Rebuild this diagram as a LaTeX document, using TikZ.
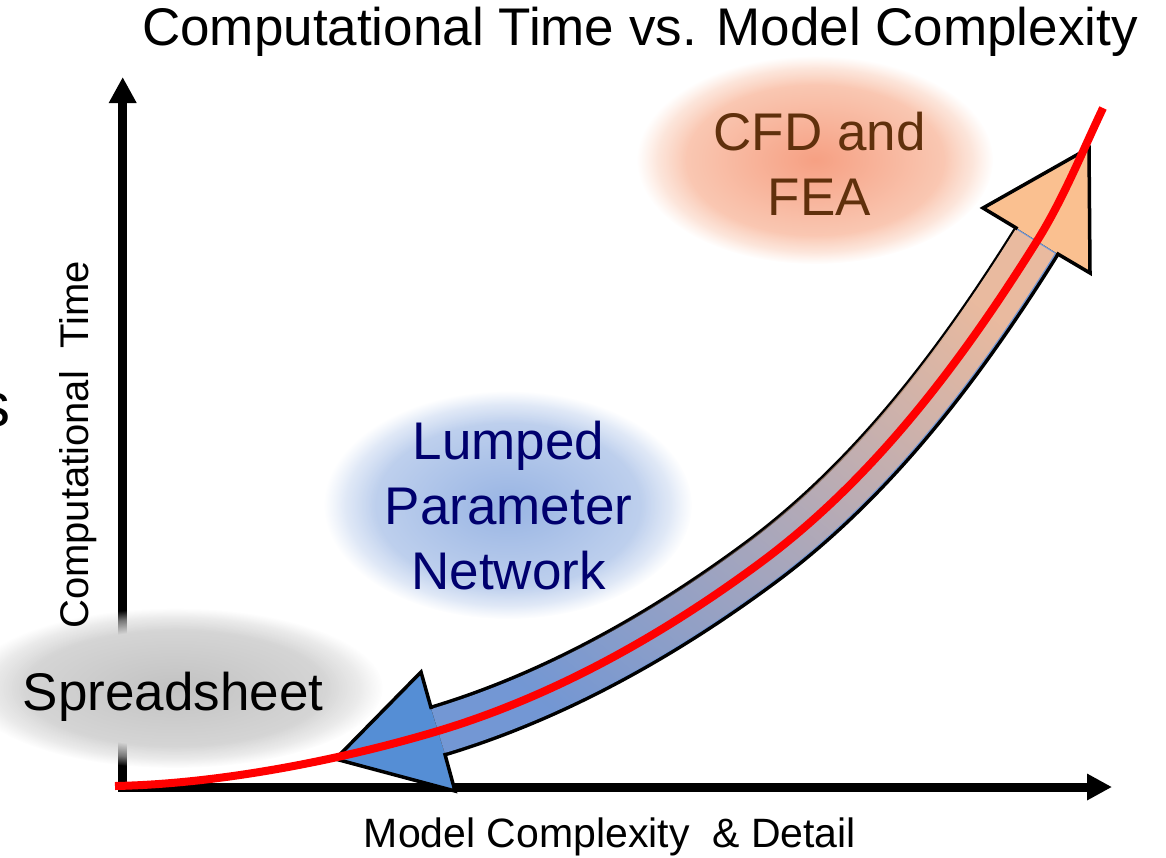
\documentclass[tikz,border=0pt]{standalone}
\usepackage{fontspec}
\setmainfont{Liberation Sans}
\usetikzlibrary{fadings,arrows.meta}

% radial mask: solid core, soft rim
\pgfdeclareradialshading{softedgemask}{\pgfpointorigin}{%
  color(0bp)=(pgftransparent!0);
  color(18bp)=(pgftransparent!0);
  color(22bp)=(pgftransparent!45);
  color(25bp)=(pgftransparent!100);
  color(50bp)=(pgftransparent!100)}
\pgfdeclarefading{soft edge}{\pgfuseshading{softedgemask}}
% linear mask for the shaft colour blend
\tikzfading[name=band fade, bottom color=transparent!100, top color=transparent!0]

\definecolor{headblue}{RGB}{85,142,213}
\definecolor{headpeach}{RGB}{250,192,144}
\definecolor{shaftblue}{RGB}{115,151,212}
\definecolor{shaftpeach}{RGB}{233,186,159}
\definecolor{navytext}{RGB}{0,0,110}
\definecolor{browntext}{RGB}{96,48,12}
\definecolor{greyin}{RGB}{194,194,194}
\definecolor{greyout}{RGB}{220,220,220}
\definecolor{bluein}{RGB}{152,180,227}
\definecolor{blueout}{RGB}{204,218,241}
\definecolor{salmonin}{RGB}{246,160,131}
\definecolor{salmonout}{RGB}{251,214,196}

\begin{document}
\begin{tikzpicture}[x=1pt, y=-1pt,
  axisline/.style={line width=9pt, line join=miter,
    {Triangle[length=26pt,width=26pt]}-{Triangle[length=25pt,width=25pt]}},
  blob/.style={path fading=soft edge},
  bigtext/.style={font=\fontsize{53}{65}\selectfont, inner sep=0pt},
  bubbletext/.style={bigtext, align=center},
  outline/.style={line width=3.5pt, line join=miter, draw=black},
  redcurve/.style={line width=8pt, draw=red},
]
\useasboundingbox (0,0) rectangle (1166,857);

% axes
\coordinate (ytip) at (122.7,77);
\coordinate (xtip) at (1112,787);
\draw[axisline] (ytip) |- (xtip);

% soft bubbles
\shade[blob, inner color=greyin, outer color=greyout] (175,688) ellipse [x radius=208, y radius=80];
\shade[blob, inner color=bluein, outer color=blueout] (508,505) ellipse [x radius=184, y radius=114];
\shade[blob, inner color=salmonin, outer color=salmonout] (815,160) ellipse [x radius=178, y radius=104];

% labels
\node[bigtext, anchor=base] (title) at (640,45) {Computational Time vs. Model Complexity};
\node[inner sep=0pt, anchor=base, rotate=90, font=\fontsize{40}{48}\selectfont] (ylab) at (88,445) {Computational~ Time};
\node[inner sep=0pt, anchor=base, font=\fontsize{41}{48}\selectfont] (xlab) at (610,847) {Model Complexity~ \& Detail};
\node[inner sep=0pt, anchor=base east, font=\fontsize{62}{70}\selectfont] (cut) at (11,426) {s};
\node[bigtext, anchor=base] (sheet) at (173,710) {Spreadsheet};
\node[bubbletext, text=navytext] (lpn) at (508.5,506) {Lumped\\Parameter\\Network};
\node[bubbletext, text=browntext] (cfd) at (819.5,163.5) {CFD and\\FEA};

% curved double arrow: centre line
\coordinate (p0) at (438,731);
\coordinate (c1) at (553.9,696.2);
\coordinate (c2) at (662.7,635);
\coordinate (pm) at (760,563);
\coordinate (c3) at (874.1,478.5);
\coordinate (c4) at (961.7,361.4);
\coordinate (p3) at (1037,241);
\def\bandpath{(p0) .. controls (c1) and (c2) .. (pm) .. controls (c3) and (c4) .. (p3)}

% arrow heads
\coordinate (la) at (431.4,709);
\coordinate (lc1) at (421,672);
\coordinate (lt) at (335.5,759);
\coordinate (lc2) at (455,791);
\coordinate (lb) at (444.6,753);
\coordinate (ua) at (1017.5,228.8);
\coordinate (uc1) at (983,208);
\coordinate (ut) at (1089,148);
\coordinate (uc2) at (1090,273);
\coordinate (ub) at (1056.5,253.2);
\fill[headblue] (la) -- (lc1) -- (lt) -- (lc2) -- (lb) -- cycle;
\fill[headpeach] (ua) -- (uc1) -- (ut) -- (uc2) -- (ub) -- cycle;

% shaft
\draw[line width=53pt, black] \bandpath;
\draw[line width=46pt, shaftblue] \bandpath;
\draw[line width=46pt, shaftpeach, path fading=band fade, fading angle=-45] \bandpath;

\draw[outline] (la) -- (lc1) -- (lt) -- (lc2) -- (lb);
\draw[outline] (ua) -- (uc1) -- (ut) -- (uc2) -- (ub);

% growth curve
\coordinate (r0) at (115,786);
\coordinate (r1) at (1103,108);
\draw[redcurve] (r0) .. controls (220,784) and (342,759.7) .. (p0)
  .. controls (c1) and (c2) .. (pm) .. controls (c3) and (c4) .. (p3)
  .. controls (1063,199.5) and (1082,152.2) .. (r1);
\end{tikzpicture}
\end{document}
